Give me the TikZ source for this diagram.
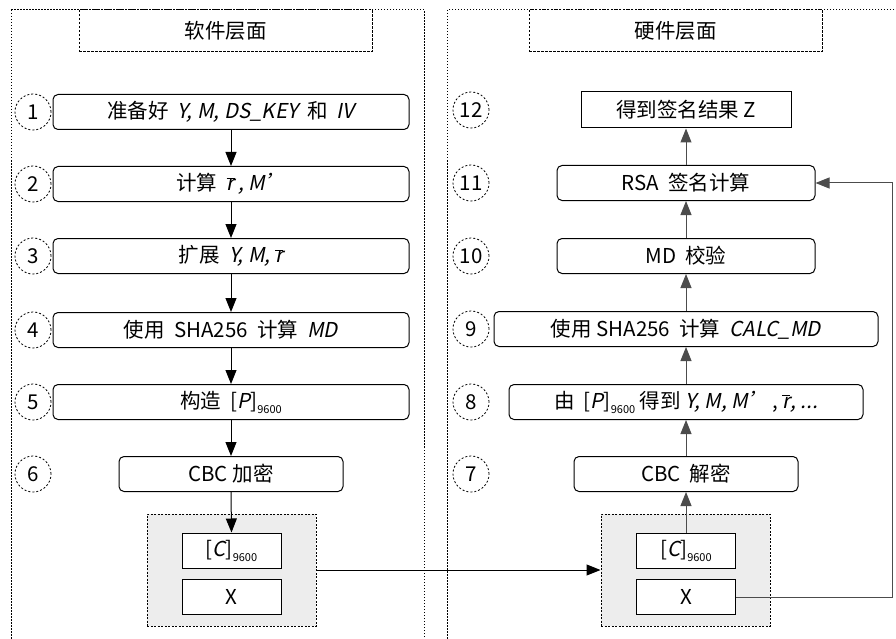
\documentclass[tikz,border=0pt]{standalone}
\usepackage{fontspec}
\setmainfont{Noto Sans CJK SC}[AutoFakeSlant=0.2]
\usetikzlibrary{arrows.meta,calc,positioning}
\newcommand{\idxsub}[1]{\raisebox{-5pt}{\fontsize{11}{11}\selectfont #1}}
\newcommand{\rbar}{$\overline{\mbox{\textit{r}}}$}

\begin{document}
\begin{tikzpicture}[
    x=1pt,
    y=-1pt,
    font=\fontsize{20.5}{24}\selectfont,
    panel/.style={draw, dash pattern=on 1.5pt off 1.5pt, line width=1pt},
    title/.style={draw, dash pattern=on 2.5pt off 1.5pt, line width=1pt, minimum width=293pt, minimum height=42pt, inner sep=0pt},
    stepbox/.style={draw, rounded corners=5pt, line width=1pt, minimum height=35pt, inner sep=0pt, align=center},
    numcirc/.style={draw, circle, dash pattern=on 2pt off 2pt, line width=0.8pt, minimum size=36pt, inner sep=0pt},
    pack/.style={draw, fill=black!7, dash pattern=on 2pt off 1.5pt, line width=1pt, minimum width=169pt, minimum height=112pt},
    cell/.style={draw, fill=white, line width=1pt, minimum width=99pt, minimum height=35pt, inner sep=0pt},
    line/.style={-{Triangle[length=14pt, width=11pt]}, line width=1pt},
    upline/.style={line, draw=black!70}
]
\useasboundingbox (0,0) rectangle (896,639);
\draw[panel] (11,10) rectangle (424,660);
\draw[panel] (447,10) rectangle (898,660);
\node[title] (swtitle) at (225.5,31) {软件层面};
\node[title] (hwtitle) at (675.5,31) {硬件层面};

% software side
\node[stepbox, minimum width=356pt] (s1) at (231,112) {准备好 \ \textit{Y, M, DS\_KEY} \ 和 \ \textit{IV}};
\node[stepbox, minimum width=356pt] (s2) at (231,184) {计算 \ \rbar\textit{\,, M’}};
\node[stepbox, minimum width=356pt] (s3) at (231,256) {扩展 \ \textit{Y, M,} \rbar};
\node[stepbox, minimum width=356pt] (s4) at (231,330) {使用 \ SHA256 \ 计算 \ \textit{MD}};
\node[stepbox, minimum width=356pt] (s5) at (231,402) {构造 \ [\textit{P}]\idxsub{9600}};
\node[stepbox, minimum width=224pt] (s6) at (231,474) {CBC 加密};
\node[pack] (swpack) at (231.5,570) {};
\node[cell] (swc) at (231.5,550.5) {[\textit{C}]\idxsub{9600}};
\node[cell] (swx) at (231.5,596.5) {X};

% hardware side
\node[stepbox, minimum width=224pt] (s7) at (686,474) {CBC \ 解密};
\node[stepbox, minimum width=354pt] (s8) at (686,402) {由 \ [\textit{P}]\idxsub{9600} 得到 \textit{Y, M, M’}\,, \rbar\textit{, ...}};
\node[stepbox, minimum width=384pt] (s9) at (686,329) {使用 SHA256 \ 计算 \ \textit{CALC\_MD}};
\node[stepbox, minimum width=258pt] (s10) at (686,256) {MD \ 校验};
\node[stepbox, minimum width=258pt] (s11) at (686,183) {RSA \ 签名计算};
\node[draw, line width=1pt, minimum width=210pt, minimum height=36pt, inner sep=0pt] (s12) at (686,110) {得到签名结果 Z};
\node[pack] (hwpack) at (685.5,570) {};
\node[cell] (hwc) at (686,550.5) {[\textit{C}]\idxsub{9600}};
\node[cell] (hwx) at (686,597) {X};

% step numbers
\foreach \n/\y in {1/112,2/184,3/256,4/330,5/402,6/474}
  \node[numcirc] (n\n) at (33,\y) {\n};
\foreach \n/\y in {7/474,8/402,9/329,10/256,11/183,12/110}
  \node[numcirc] (n\n) at (471,\y) {\n};

\draw[line] (s1) -- (s2);
\draw[line] (s2) -- (s3);
\draw[line] (s3) -- (s4);
\draw[line] (s4) -- (s5);
\draw[line] (s5) -- (s6);
\draw[line] (s6.south) -- (swc.north);
\draw[line] (swpack.east) -- (hwpack.west);
\draw[upline] (hwc.north) -- (s7.south);
\draw[upline] (s7) -- (s8);
\draw[upline] (s8) -- (s9);
\draw[upline] (s9) -- (s10);
\draw[upline] (s10) -- (s11);
\draw[upline] (s11) -- (s12);
\coordinate (turn) at (892,597);
\draw[upline] (hwx.east) -- (turn) |- (s11.east);
\end{tikzpicture}
\end{document}
